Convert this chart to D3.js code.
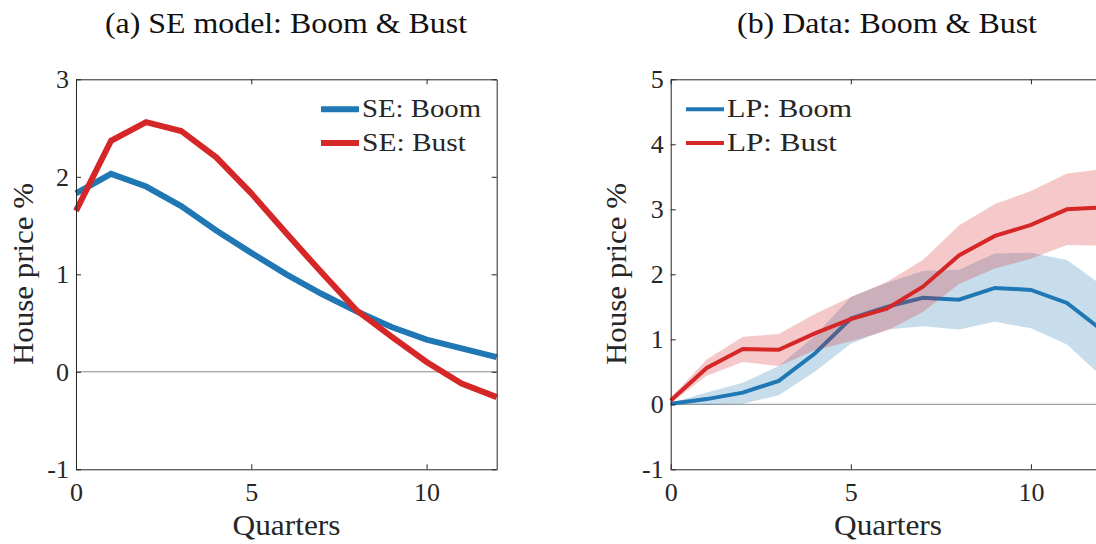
<!DOCTYPE html>
<html>
<head>
<meta charset="utf-8">
<script src="https://cdn.jsdelivr.net/npm/d3@7"></script>
<style>
  html, body { margin: 0; padding: 0; background: #fff; }
  svg { display: block; font-family: "Liberation Serif", "Times New Roman", serif; }
</style>
</head>
<body>
<svg id="chart" width="1096" height="544"></svg>
<script>
// ---------- data ----------
const quarters = [0,1,2,3,4,5,6,7,8,9,10,11,12];
const xTicks = [0,5,10];
const yTicksA = [-1,0,1,2,3];
const yTicksB = [-1,0,1,2,3,4,5];

// (a) SE model
const seBoom = [1.83,2.03,1.90,1.70,1.45,1.22,1.00,0.80,0.62,0.46,0.33,0.24,0.15];
const seBust = [1.65,2.37,2.56,2.47,2.20,1.83,1.42,1.02,0.63,0.36,0.10,-0.12,-0.26];

// (b) Data (local projections) with bands
const lpBoom      = [0.01,0.08,0.18,0.36,0.78,1.32,1.50,1.64,1.61,1.79,1.76,1.56,1.13];
const lpBoomUpper = [0.02,0.18,0.33,0.59,1.05,1.65,1.87,2.05,2.07,2.32,2.33,2.22,1.82];
const lpBoomLower = [0.00,-0.01,0.01,0.14,0.50,0.93,1.15,1.20,1.15,1.27,1.17,0.92,0.41];
const lpBust      = [0.06,0.56,0.85,0.84,1.09,1.31,1.47,1.81,2.29,2.59,2.76,3.00,3.03];
const lpBustUpper = [0.10,0.69,1.04,1.08,1.39,1.65,1.88,2.22,2.75,3.08,3.28,3.55,3.62];
const lpBustLower = [0.02,0.44,0.65,0.59,0.83,0.97,1.13,1.42,1.85,2.09,2.24,2.45,2.44];

const titles = ["(a) SE model:  Boom & Bust", "(b) Data:  Boom & Bust"];
const legendA = ["SE: Boom", "SE: Bust"];
const legendB = ["LP: Boom", "LP: Bust"];
const xLabel = "Quarters";
const yLabel = "House price %";

const BLUE = "#1f77b4", RED = "#d62728";
const svg = d3.select("#chart");

const plotTop = 79.3, plotBottom = 469.3;

function panel(opts) {
  const x = d3.scaleLinear().domain([0,12]).range([opts.x0, opts.x1]);
  const y = d3.scaleLinear().domain(opts.yDomain).range([plotBottom, plotTop]);
  const g = svg.append("g");

  const area = d3.area().x((d,i)=>x(quarters[i])).y0(d=>y(d[0])).y1(d=>y(d[1]));
  const line = d3.line().x((d,i)=>x(quarters[i])).y(d=>y(d));

  // zero line
  g.append("line").attr("x1", x(0)).attr("x2", x(12)).attr("y1", y(0)).attr("y2", y(0))
    .attr("stroke", "#8a8a8a").attr("stroke-width", 1);

  opts.series.forEach(s => {
    if (s.lower) {
      g.append("path").datum(s.lower.map((v,i)=>[v, s.upper[i]]))
        .attr("d", area).attr("fill", s.color).attr("fill-opacity", 0.25);
    }
    g.append("path").datum(s.values).attr("d", line)
      .attr("fill", "none").attr("stroke", s.color).attr("stroke-width", opts.lw);
  });

  // axes
  const axG = g.append("g");
  const styleAxis = sel => {
    sel.select(".domain").attr("stroke", "#262626").attr("stroke-width", 1).attr("fill", "none");
    sel.selectAll(".tick line").attr("stroke", "#262626").attr("stroke-width", 1);
    sel.selectAll(".tick text").attr("fill", "#262626").attr("font-size", 26)
      .attr("font-family", "Liberation Serif, serif");
  };
  axG.append("g").attr("transform", `translate(0,${plotBottom})`)
    .call(d3.axisBottom(x).tickValues(xTicks).tickSize(-5).tickSizeOuter(0).tickPadding(13).tickFormat(d3.format("d")))
    .call(styleAxis);
  axG.append("g").attr("transform", `translate(0,${plotTop})`)
    .call(d3.axisTop(x).tickValues(xTicks).tickSize(-5).tickSizeOuter(0).tickFormat(""))
    .call(styleAxis);
  axG.append("g").attr("transform", `translate(${opts.x0},0)`)
    .call(d3.axisLeft(y).tickValues(opts.yTicks).tickSize(-5).tickSizeOuter(0).tickPadding(7).tickFormat(d => d < 0 ? "-" + Math.abs(d) : d))
    .call(styleAxis);
  axG.append("g").attr("transform", `translate(${opts.x1},0)`)
    .call(d3.axisRight(y).tickValues(opts.yTicks).tickSize(-5).tickSizeOuter(0).tickFormat(""))
    .call(styleAxis);

  // title
  svg.append("text").attr("x", opts.titleX).attr("y", 33).attr("text-anchor", "middle")
    .attr("font-size", 30).attr("fill", "#111")
    .attr("textLength", opts.titleLen).attr("lengthAdjust", "spacingAndGlyphs")
    .text(opts.title);

  // x label
  svg.append("text").attr("x", opts.xLabelX).attr("y", 535).attr("text-anchor", "middle")
    .attr("font-size", 30).attr("fill", "#262626")
    .attr("textLength", 108).attr("lengthAdjust", "spacingAndGlyphs")
    .text(xLabel);

  // y label
  svg.append("text").attr("transform", `translate(${opts.yLabelX},274) rotate(-90)`)
    .attr("text-anchor", "middle").attr("font-size", 30).attr("fill", "#262626")
    .attr("textLength", 182).attr("lengthAdjust", "spacingAndGlyphs")
    .text(yLabel);

  // legend
  const lg = svg.append("g");
  opts.legend.forEach((lab, i) => {
    const ly = [109.3, 143.0][i];
    lg.append("line").attr("x1", opts.legX).attr("x2", opts.legX + 38)
      .attr("y1", ly).attr("y2", ly).attr("stroke", opts.series[i].color).attr("stroke-width", opts.lw);
    lg.append("text").attr("x", opts.legX + 41).attr("y", ly + 8)
      .attr("font-size", 25).attr("fill", "#262626")
      .attr("textLength", opts.legLens[i]).attr("lengthAdjust", "spacingAndGlyphs")
      .text(lab);
  });
}

panel({
  x0: 76, x1: 496.7, yDomain: [-1,3], yTicks: yTicksA, lw: 6,
  series: [{values: seBoom, color: BLUE}, {values: seBust, color: RED}],
  title: titles[0], titleX: 286, titleLen: 362,
  xLabelX: 286.5, yLabelX: 33,
  legend: legendA, legX: 321, legLens: [119, 104]
});

panel({
  x0: 670.7, x1: 1103, yDomain: [-1,5], yTicks: yTicksB, lw: 4,
  series: [
    {values: lpBoom, lower: lpBoomLower, upper: lpBoomUpper, color: BLUE},
    {values: lpBust, lower: lpBustLower, upper: lpBustUpper, color: RED}
  ],
  title: titles[1], titleX: 887, titleLen: 300,
  xLabelX: 888, yLabelX: 626,
  legend: legendB, legX: 686, legLens: [125, 110]
});
</script>
</body>
</html>
